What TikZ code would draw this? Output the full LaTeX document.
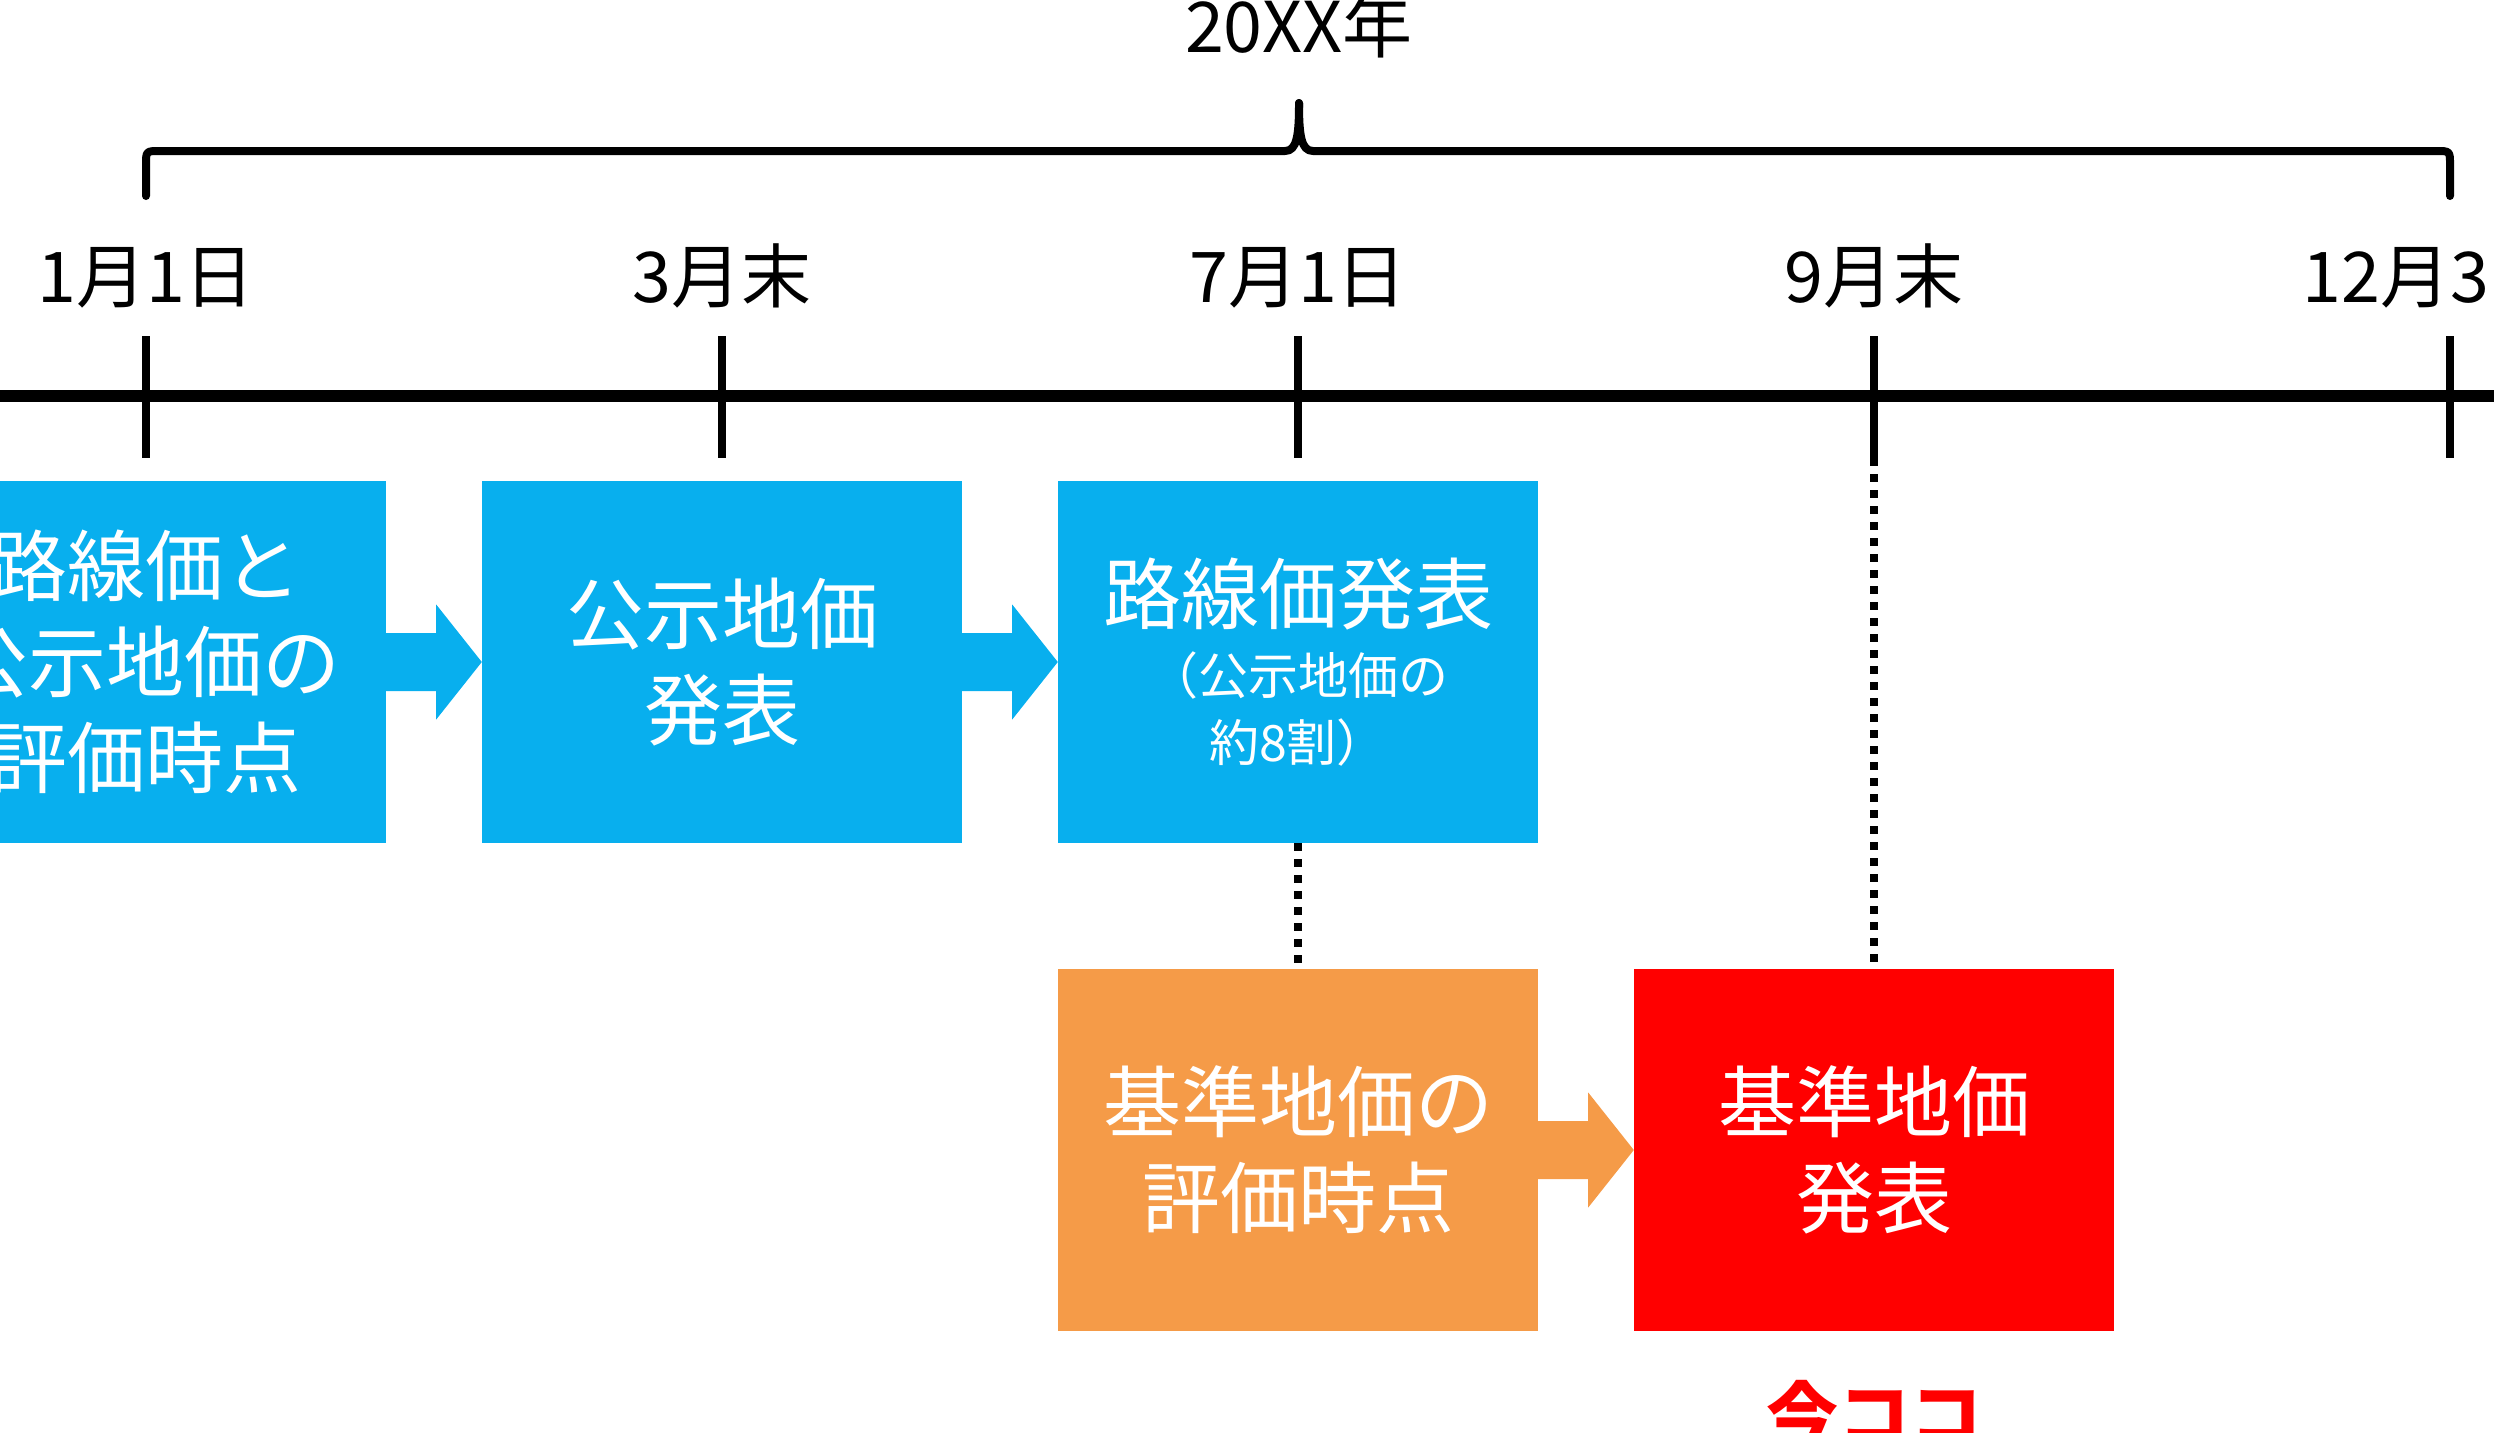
\documentclass[tikz,border=0pt]{standalone}
\usepackage{fontspec}
\setmainfont{Noto Sans CJK JP}
\usetikzlibrary{positioning,calc}
\definecolor{boxblue}{RGB}{8,175,238}
\definecolor{boxorange}{RGB}{245,155,72}
\definecolor{nowred}{RGB}{255,0,0}

\begin{document}
\begin{tikzpicture}[x=1pt, y=-1pt,
  datebox/.style={rectangle, minimum width=480pt, minimum height=362pt, inner sep=0pt, text=white, align=center, font=\fontsize{78}{96}\selectfont},
  datelabel/.style={anchor=base, inner sep=0pt, font=\fontsize{70}{84}\selectfont},
  tickline/.style={line width=8pt},
  guide/.style={line width=8pt, dash pattern=on 8pt off 8pt}]
\useasboundingbox (0,0) rectangle (2494,1432);
\clip (0,0) rectangle (2494,1432);
%timeline
\draw[line width=12pt] (-10,396) -- (2504,396);
\foreach \n/\x in {1/146,2/722,3/1298,4/1874,5/2450} {
  \coordinate (t\n) at (\x,396);
  \coordinate (tb\n) at (\x,458);
  \draw[tickline] (\x,336) -- (tb\n);
}
\node[datelabel] (l1) at (146,302) {1月1日};
\node[datelabel] (l2) at (722,302) {3月末};
\node[datelabel] (l3) at (1298,302) {7月1日};
\node[datelabel] (l4) at (1874,302) {9月末};
\node[datelabel] (l5) at (2450,302) {12月31日};
%year brace
\node[datelabel] (year) at (1299,52) {20XX年};
\draw[line width=8pt, line cap=round, line join=round] (146,196) -- (146,165) .. controls (146,151) .. (160,151) -- (1285,151) .. controls (1297,151) and (1299,135) .. (1299,103);
\draw[line width=8pt, line cap=round, line join=round] (2450,196) -- (2450,165) .. controls (2450,151) .. (2436,151) -- (1313,151) .. controls (1301,151) and (1299,135) .. (1299,103);
\begin{scope}
\node[datebox, fill=boxblue] (hyoka) at (146,662) {路線価と\\公示地価の\\評価時点};
\node[datebox, fill=boxblue] (koji) at (722,662) {公示地価\\発表};
\node[datebox, fill=boxblue] (rosen) at (1298,662) {路線価発表\\[-25pt]{\fontsize{50}{67}\selectfont （公示地価の}\\[-29pt]{\fontsize{50}{67}\selectfont 約8割）}};
\node[datebox, fill=boxorange] (kijunhyoka) at (1298,1150) {基準地価の\\評価時点};
\node[datebox, fill=nowred] (kijun) at (1874,1150) {基準地価\\発表};
\end{scope}
\foreach \a/\b/\c in {hyoka/koji/boxblue, koji/rosen/boxblue, kijunhyoka/kijun/boxorange}
  \fill[\c] ($(\a.east)+(0,-29)$) -- ($(\a.east)+(50,-29)$) -- ($(\a.east)+(50,-57.5)$) -- (\b.west) -- ($(\a.east)+(50,57.5)$) -- ($(\a.east)+(50,29)$) -- ($(\a.east)+(0,29)$) -- cycle;
\draw[guide] (rosen.south) -- (kijunhyoka.north);
\draw[guide] (tb4) -- (kijun.north);
\node[anchor=base, inner sep=0pt, text=nowred, font=\fontsize{72}{86}\selectfont\bfseries] (now) at (1874,1442) {今ココ};
\end{tikzpicture}
\end{document}
